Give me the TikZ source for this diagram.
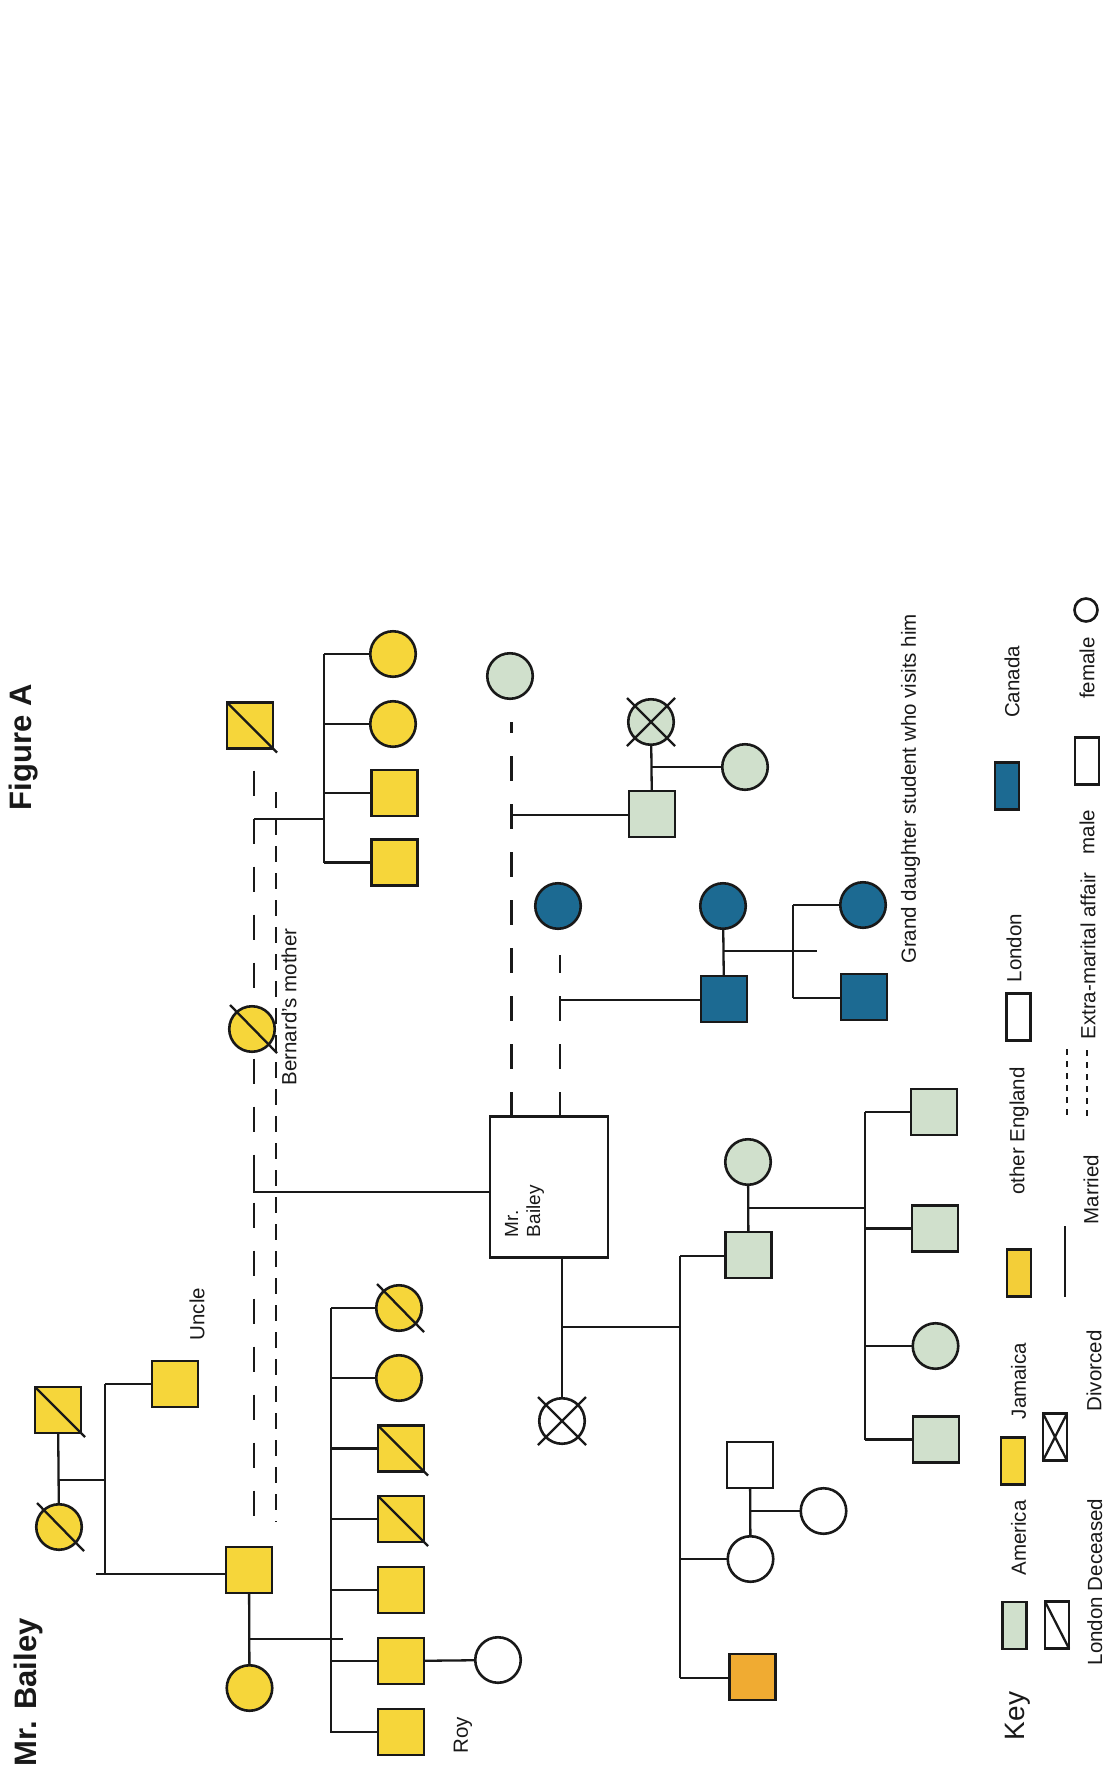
\documentclass[tikz,border=0pt]{standalone}
\usepackage{fontspec}
\setmainfont{Liberation Sans}
\usetikzlibrary{calc}
\definecolor{jamaica}{RGB}{246,214,58}
\definecolor{englandkey}{RGB}{243,206,56}
\definecolor{america}{RGB}{208,224,204}
\definecolor{canada}{RGB}{28,106,146}
\definecolor{amber}{RGB}{240,171,50}
\definecolor{ink}{RGB}{25,25,25}
\pgfdeclarelayer{paper}
\pgfdeclarelayer{back}
\pgfsetlayers{paper,back,main}
\begin{document}
\begin{tikzpicture}[x=1pt,y=-1pt,
  every node/.style={inner sep=0pt, outer sep=0pt},
  person/.style={draw=ink, line width=2.6pt},
  msq/.style={person, rectangle, minimum width=46pt, minimum height=46pt},
  fci/.style={person, circle, minimum size=45.5pt},
  keyrect/.style={person, rectangle, minimum width=24pt, minimum height=47pt},
  jam/.style={fill=jamaica}, ame/.style={fill=america},
  can/.style={fill=canada}, lon/.style={fill=white},
  link/.style={draw=ink, line width=2.3pt},
  affair/.style={link, dash pattern=on 25pt off 23pt},
  affairshort/.style={link, dash pattern=on 16pt off 11pt},
  xline/.style={draw=ink, line width=2.3pt},
  lbl/.style={rotate=90, font=\fontsize{20.5}{24.5}\selectfont, text=ink},
  ttl/.style={rotate=90, font=\fontsize{31}{36}\selectfont\bfseries, text=ink},
]
\begin{pgfonlayer}{paper}
  \fill[white] (0,0) rectangle (1109,1769);
\end{pgfonlayer}
\useasboundingbox (0,0) rectangle (1109,1769);

% ---------- titles ----------
\node[ttl, anchor=base west] (tA) at (31,810) {Figure A};
\node[ttl, anchor=base west] (tB) at (36,1766) {Mr. Bailey};

% ---------- Jamaica family ----------
\node[msq,jam] (gf) at (58,1410) {};
\node[fci,jam] (gm) at (59,1527) {};
\node[msq,jam] (uncle) at (175,1384) {};
\node[msq,jam] (fa) at (249,1570) {};
\node[fci,jam] (mo) at (249.5,1688) {};
\node[msq,jam] (bf) at (250,725.5) {};
\node[fci,jam] (bm) at (252,1029) {};
\node[fci,jam] (t1) at (393,654) {};
\node[fci,jam] (t2) at (393,724) {};
\node[msq,jam] (t3) at (394.5,793) {};
\node[msq,jam] (t4) at (394.5,862.5) {};
\node[fci,jam] (s1) at (399,1308) {};
\node[fci,jam] (s2) at (399,1378) {};
\node[msq,jam] (s3) at (401,1448.5) {};
\node[msq,jam] (s4) at (401,1519) {};
\node[msq,jam] (s5) at (401,1590) {};
\node[msq,jam] (s6) at (401,1661) {};
\node[msq,jam] (roy) at (401,1732) {};
\node[fci,lon] (s6w) at (498,1660) {};

\node[lbl] (lUncle) at (197,1314) {Uncle};
\node[lbl] (lBm) at (289,1007) {Bernard’s mother};
\node[lbl] (lRoy) at (463,1735) {Roy};

% ---------- Mr. Bailey ----------
\node[person, rectangle, fill=white, minimum width=118pt, minimum height=141pt] (mb) at (549,1187) {};
\node[lbl, font=\fontsize{19}{22}\selectfont, align=left, anchor=north west] (mbt) at (505,1237) {Mr.\\Bailey};

% ---------- America ----------
\node[fci,ame] (ga) at (510,676) {};
\node[fci,ame] (gx) at (651,722) {};
\node[msq,ame] (gs) at (652,814) {};
\node[fci,ame] (gw) at (745,767) {};

% ---------- Canada ----------
\node[fci,can] (bc) at (558,906) {};
\node[fci,can] (bw) at (723,906) {};
\node[msq,can] (bs) at (724,999) {};
\node[fci,can] (bd) at (863,905) {};
\node[msq,can] (bg) at (864,997) {};
\node[lbl] (lGd) at (910.6,789) {Grand daughter student who visits him};

% ---------- marriage and descendants ----------
\node[fci,lon] (exw) at (562,1421) {};
\node[msq,ame] (son) at (748.5,1255) {};
\node[fci,ame] (sonw) at (748,1162) {};
\node[msq,ame] (k1) at (934,1112) {};
\node[msq,ame] (k2) at (935,1228.5) {};
\node[fci,ame] (k3) at (935.5,1346) {};
\node[msq,ame] (k4) at (936,1439.5) {};
\node[fci,lon] (dau) at (750.5,1559) {};
\node[msq,lon] (dauh) at (750,1465) {};
\node[fci,lon] (dauc) at (823.5,1511) {};
\node[msq,fill=amber] (org) at (752.5,1677) {};

% ---------- symbol marks ----------
\foreach \n in {gf,bf,s3,s4}
  \draw[xline] (\n.north west) -- ($(\n.south east)+(4,4)$);
\foreach \n in {gm,bm,s1}
  \draw[xline] ($(\n)+(-22,-24)$) -- ($(\n)+(25,24)$);
\foreach \n in {gx,exw}
  \draw[xline] ($(\n)+(-24,-24)$) -- ($(\n)+(24,24)$)
               ($(\n)+(24,-24)$) -- ($(\n)+(-24,24)$);

% ---------- connectors ----------
\begin{pgfonlayer}{back}
  % grandparents and their sons
  \draw[link] (gf) -- (gm);
  \coordinate (gpj) at (59,1480);
  \coordinate (gbt) at (105,1384);
  \coordinate (gbb) at (105,1574);
  \coordinate (gbl) at (96,1574);
  \draw[link] (gpj) -- (gpj -| gbt);
  \draw[link] (gbt) -- (gbb);
  \draw[link] (gbt) -- (uncle);
  \draw[link] (gbl) -- (gbl -| fa.west);
  % parents and siblings
  \draw[link] (fa) -- (mo);
  \coordinate (pj) at (249.5,1639);
  \coordinate (pje) at (343,1639);
  \draw[link] (pj) -- (pje);
  \coordinate (sbt) at (331,1308);
  \coordinate (sbb) at (331,1733);
  \draw[link] (sbt) -- (sbb);
  \foreach \k in {s1,s2,s3,s4,s5,s6,roy}
    \draw[link] (sbt |- \k) -- (\k);
  \draw[link] (s6) -- (s6w);
  % extra-marital lines of the father
  \draw[affair] ($(bf.south)+(4,22)$) -- ($(fa.north)+(5,-22)$);
  \coordinate (sa1) at (276,792);
  \coordinate (sa2) at (276,1522);
  \draw[affairshort] (sa1) -- (sa2);
  % half siblings at the top
  \coordinate (tbt) at (324,654);
  \coordinate (tbb) at (324,863);
  \draw[link] (tbt) -- (tbb);
  \foreach \k in {t1,t2,t3,t4}
    \draw[link] (tbt |- \k) -- (\k);
  \coordinate (tj) at (254,819);
  \draw[link] (tj) -- (tj -| tbt);
  % Mr. Bailey to his father's line
  \coordinate (mbj) at (254,1192);
  \draw[link] ($(mbj)+(0,-24)$) -- (mbj) -- (mbj -| mb.west);
  % America
  \coordinate (gal) at (511.5,722);
  \draw[affair] (gal |- mb.north) -- (gal);
  \coordinate (gaj) at (511.5,815);
  \draw[link] (gaj) -- (gaj -| gs.west);
  \draw[link] (gx) -- (gs);
  \coordinate (gxj) at (652,767);
  \draw[link] (gxj) -- (gw);
  % Canada
  \coordinate (bcl) at (560,955);
  \draw[affair] (bcl |- mb.north) -- (bcl);
  \coordinate (bcj) at (560,1000);
  \draw[link] (bcj) -- (bcj -| bs.west);
  \draw[link] (bw) -- (bs);
  \coordinate (bwj) at (723,951);
  \coordinate (bwje) at (817,951);
  \draw[link] (bwj) -- (bwje);
  \coordinate (bbt) at (793,905);
  \coordinate (bbb) at (793,998);
  \draw[link] (bbt) -- (bbb);
  \draw[link] (bbt) -- (bd);
  \draw[link] (bbb) -- (bbb -| bg.west);
  % marriage
  \draw[link] (exw |- mb.south) -- (exw);
  \coordinate (mj) at (562,1327);
  \coordinate (cbt) at (680,1256);
  \coordinate (cbb) at (680,1678);
  \draw[link] (mj) -- (mj -| cbt);
  \draw[link] (cbt) -- (cbb);
  \draw[link] (cbt) -- (cbt -| son.west);
  \draw[link] (cbt |- dau) -- (dau);
  \draw[link] (cbb) -- (cbb -| org.west);
  \draw[link] (sonw) -- (son);
  \coordinate (sj) at (748,1208);
  \coordinate (kbt) at (865,1112);
  \coordinate (kbb) at (865,1440);
  \draw[link] (sj) -- (sj -| kbt);
  \draw[link] (kbt) -- (kbb);
  \foreach \k in {k1,k2,k3,k4}
    \draw[link] (kbt |- \k) -- (\k);
  \draw[link] (dauh) -- (dau);
  \coordinate (dj) at (750.5,1511);
  \draw[link] (dj) -- (dauc);
\end{pgfonlayer}

% ---------- key ----------
\node[rotate=90, font=\fontsize{28}{32}\selectfont, text=ink] (kKey) at (1018,1716) {Key};
\node[keyrect, ame] (kAm) at (1014.5,1625.5) {};
\node[keyrect, jam] (kJa) at (1013,1461) {};
\node[keyrect, fill=englandkey] (kEn) at (1019,1273) {};
\node[keyrect, lon] (kLo) at (1018.5,1017) {};
\node[keyrect, can] (kCa) at (1007,786) {};
\node[lbl] at (1018.6,1538) {America};
\node[lbl] at (1018.6,1381) {Jamaica};
\node[lbl] at (1019,1131) {other England};
\node[lbl] at (1014,948) {London};
\node[lbl] at (1012,682) {Canada};

\node[keyrect, lon] (kDe) at (1057,1625) {};
\draw[xline] (kDe.north west) -- (kDe.south east);
\node[keyrect, lon] (kDi) at (1055,1437) {};
\draw[xline] (kDi.north west) -- (kDi.south east) (kDi.north east) -- (kDi.south west);
\coordinate (kMa1) at (1065,1226);
\coordinate (kMa2) at (1065,1297);
\draw[link] (kMa1) -- (kMa2);
\coordinate (kEx1) at (1067,1049);
\coordinate (kEx2) at (1067,1118);
\draw[link, line width=1.7pt, dash pattern=on 6pt off 6pt] (kEx1) -- (kEx2);
\coordinate (kEx3) at (1087,1050);
\coordinate (kEx4) at (1087,1120);
\draw[link, line width=1.7pt, dash pattern=on 6pt off 6pt] (kEx3) -- (kEx4);

\node[lbl] at (1094.7,1582) {London Deceased};
\node[lbl] at (1094,1371) {Divorced};
\node[lbl] at (1091,1189.5) {Married};
\node[lbl] at (1088,956) {Extra-marital affair};
\node[keyrect, lon] (kMale) at (1087,761) {};
\node[lbl] at (1087,832) {male};
\node[person, circle, fill=white, minimum size=23pt] (kFem) at (1086,610) {};
\node[lbl] at (1087,668) {female};
\end{tikzpicture}
\end{document}
